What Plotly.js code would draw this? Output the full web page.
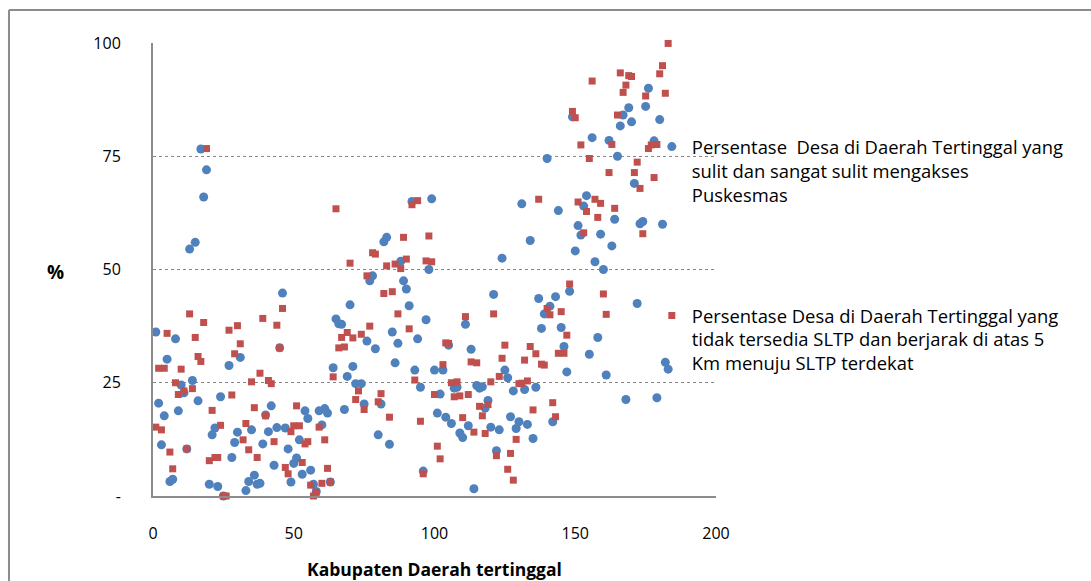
<!DOCTYPE html>
<html>
<head>
<meta charset="utf-8">
<script src="https://cdn.plot.ly/plotly-3.0.1.min.js"></script>
<style>
  html, body { margin: 0; padding: 0; background: #ffffff; overflow: hidden; }
  #chart { width: 1091px; height: 581px; }
</style>
</head>
<body>
<div id="chart"></div>
<script>
// Series 1: Persentase Desa ... sulit dan sangat sulit mengakses Puskesmas (blue circles)
const puskesmasX = [1,2,3,4,5,6,7,8,9,10,11,12,13,14,15,16,17,18,19,20,21,22,23,24,25,27,28,29,30,31,33,34,35,36,37,38,39,40,41,42,43,44,45,46,47,48,49,50,51,52,53,54,55,56,57,58,59,60,61,62,63,64,65,66,67,68,69,70,71,72,74,75,76,77,78,79,80,81,82,83,84,85,86,87,88,89,90,91,92,93,94,95,96,97,98,99,100,101,102,103,104,105,106,107,108,109,110,111,112,113,114,115,116,117,118,119,120,121,122,123,124,125,126,127,128,129,130,131,132,133,134,135,136,137,138,139,140,141,142,143,144,145,146,147,148,149,150,151,152,153,154,155,156,157,158,159,160,161,162,163,164,165,166,167,168,169,170,171,172,173,174,175,176,178,179,180,181,182,183];
const puskesmasY = [36.2,20.5,11.3,17.7,30.2,3.2,3.7,34.7,18.8,24.5,22.8,10.4,54.5,25.5,56,21,76.6,66,72,2.6,13.5,15,2.1,21.9,0,28.8,8.5,11.8,14.1,30.6,1.2,3.2,14.6,4.6,2.6,2.8,11.5,17.9,14.2,19.9,6.8,15.1,32.7,44.8,15,10.4,3.1,7.2,8.4,12.4,4.8,18.8,17.1,5.7,2.6,1.0,18.8,15.7,19.3,18.3,3.1,28.3,39.1,38,37.9,19.1,26.4,42.2,28.6,24.8,24.8,20.3,34.2,47.5,48.6,32.5,13.5,20.3,56.1,57.1,11.4,36.2,29.4,33.7,51.8,47.5,45.7,42,65,27.8,34.7,24,5.5,38.9,50,65.6,27.8,18.3,22.5,27.8,17.4,33.3,16,23.8,24,13.9,12.9,37.9,15.5,32.4,1.6,24.4,23.8,24.1,19.4,21.1,15.2,44.5,10,14.6,52.5,27.8,26.1,17.5,23.2,14.9,16.4,64.5,23.5,15.8,56.4,12.7,24,43.6,37,40.2,74.5,41.9,16.4,44,63,37.2,33,27.4,45.2,83.7,54.1,59.7,57.6,64,66.3,31.3,79.1,51.7,35,57.8,50,26.7,78.5,55.2,61.1,75,81.7,84.1,21.3,85.7,82.6,69,42.5,60.1,60.6,86,90,78.4,21.7,83.1,60,29.5,28];

// Series 2: Persentase Desa ... tidak tersedia SLTP (red squares)
const sltpX = [1,2,3,4,5,6,7,8,9,10,11,12,13,14,15,16,17,18,19,20,21,22,23,24,25,26,27,28,29,30,31,32,33,34,35,36,37,38,39,40,41,42,43,44,45,46,47,48,49,50,51,52,53,54,55,56,57,58,59,60,61,62,63,64,65,66,67,68,69,70,71,72,73,74,75,76,77,78,79,80,81,82,83,84,85,86,87,88,89,90,91,92,93,94,95,96,97,98,99,100,101,102,103,104,105,106,107,108,109,110,111,112,113,114,115,116,117,118,119,120,121,122,123,124,125,126,127,128,129,130,131,132,133,134,135,136,137,138,139,140,141,142,143,144,145,146,147,148,149,150,151,152,153,154,155,156,157,158,159,160,161,162,163,164,165,166,167,168,169,170,171,172,173,174,175,176,177,178,179,180,181,182,183];
const sltpY = [15.2,28.2,14.6,28.2,35.9,9.7,6,25,22.4,28,23.2,10.4,40.2,23.7,35,30.8,29.7,38.3,76.7,7.8,18.9,8.5,8.5,15.6,0,0,36.6,22.3,31.4,37.6,33.6,12.4,16,10.2,25.2,19.5,8.5,27.1,39.2,17.7,
25.5,24.8,12,37.7,32.7,41.4,6.3,4.9,14.2,15.5,
19.9,15.5,7.4,11.5,12,2.4,0,0.8,15.2,2.8,
12.4,6.1,3.1,26.3,63.4,32.7,35,32.9,36.1,51.4,
34.9,21.3,23.2,35.7,19.1,48.6,37.5,53.7,53.4,20.8,
22.6,44.7,50.8,17.4,45.1,51.2,40.2,50.2,57.1,52.3,
36.9,64.3,25.6,65.2,16.5,4.9,51.9,57.4,51.7,22.4,
11,8.2,29,33.8,33.7,25,21.9,25.2,22.1,17.3,
39.6,22.4,29.6,14.1,29.4,19.8,17.7,13.8,20.2,25.2,
40.2,8.9,26.4,30.4,33.3,5.9,9.4,3.5,12.5,24.8,
24.9,30,25.4,33,19,31.4,65.5,29.1,28.9,41.4,
40,20.6,17.5,31.5,40.7,31.5,35.5,46.8,84.9,83.5,
64.9,77.5,58.1,62.8,74.5,91.6,65.5,61.5,64.6,44.6,
40.1,71.4,77.6,63.5,84.1,93.4,89.1,90.7,92.8,92.6,
71.4,73.7,67.9,57.9,88.3,76.7,77.5,70.3,77.6,93.2,
95,88.9,99.9];

const seriesNames = [
  "Persentase  Desa di Daerah Tertinggal yang<br>sulit dan sangat sulit mengakses<br>Puskesmas",
  "Persentase Desa di Daerah Tertinggal yang<br>tidak tersedia SLTP dan berjarak di atas 5<br>Km menuju SLTP terdekat"
];
const yTickVals = [0, 25, 50, 75, 100];
const yTickText = ["-", "25", "50", "75", "100"];
const xTickVals = [0, 50, 100, 150, 200];
const xTitle = "Kabupaten Daerah tertinggal";
const yTitle = "%";

const FONT = "'Open Sans', Lato, sans-serif";

const traces = [
  {
    x: puskesmasX, y: puskesmasY, type: "scatter", mode: "markers",
    name: seriesNames[0], legendgroup: "a",
    marker: { symbol: "circle", size: 9, color: "#4F81BD", line: { width: 0 } },
    cliponaxis: false
  },
  {
    x: sltpX, y: sltpY, type: "scatter", mode: "markers",
    name: seriesNames[1], legendgroup: "b",
    marker: { symbol: "square", size: 7, color: "#C0504D", line: { width: 0 } },
    cliponaxis: false
  }
];

const layout = {
  width: 1091, height: 581,
  margin: { l: 153, r: 375, t: 43, b: 85, pad: 0 },
  paper_bgcolor: "#ffffff", plot_bgcolor: "#ffffff",
  font: { family: FONT, size: 16, color: "#000000" },
  showlegend: true,
  legend: {
    x: 0.886, xanchor: "left", y: 0.812, yanchor: "top",
    font: { family: FONT, size: 18.4, color: "#000000" },
    traceorder: "grouped", tracegroupgap: 94, valign: "top",
    bgcolor: "rgba(0,0,0,0)", itemsizing: "trace"
  },
  xaxis: {
    range: [0, 200], tickvals: xTickVals, ticktext: xTickVals.map(String),
    showgrid: false, zeroline: false, showline: true, linecolor: "#8C8C8C", linewidth: 2,
    ticks: "", ticklabelstandoff: 22,
    tickfont: { family: FONT, size: 16, color: "#000000" },
    title: { text: "<b>" + xTitle + "</b>", font: { family: FONT, size: 17.5, color: "#000000" }, standoff: 21 }
  },
  yaxis: {
    range: [0, 100], tickvals: yTickVals, ticktext: yTickText,
    showgrid: true, gridcolor: "#868686", gridwidth: 1, griddash: "dot",
    zeroline: false, showline: true, linecolor: "#8C8C8C", linewidth: 2,
    ticks: "", ticklabelstandoff: 27,
    tickfont: { family: FONT, size: 16, color: "#000000" }
  },
  annotations: [
    { text: "<b>" + yTitle + "</b>", xref: "paper", yref: "paper",
      x: (55 - 153) / 563, y: (496 - 272) / 453, xanchor: "center", yanchor: "middle",
      showarrow: false, font: { family: FONT, size: 19, color: "#000000" } }
  ],
  shapes: [
    { type: "line", xref: "paper", yref: "paper", layer: "above",
      x0: -0.2558, x1: -0.2558, y0: -0.2, y1: 1.0726,
      line: { color: "#8C8C8C", width: 2 } },
    { type: "line", xref: "paper", yref: "paper", layer: "above",
      x0: -0.2558, x1: 1.7, y0: 1.0726, y1: 1.0726,
      line: { color: "#8C8C8C", width: 2 } }
  ]
};

Plotly.newPlot("chart", traces, layout, { displayModeBar: false, staticPlot: true });
</script>
</body>
</html>
